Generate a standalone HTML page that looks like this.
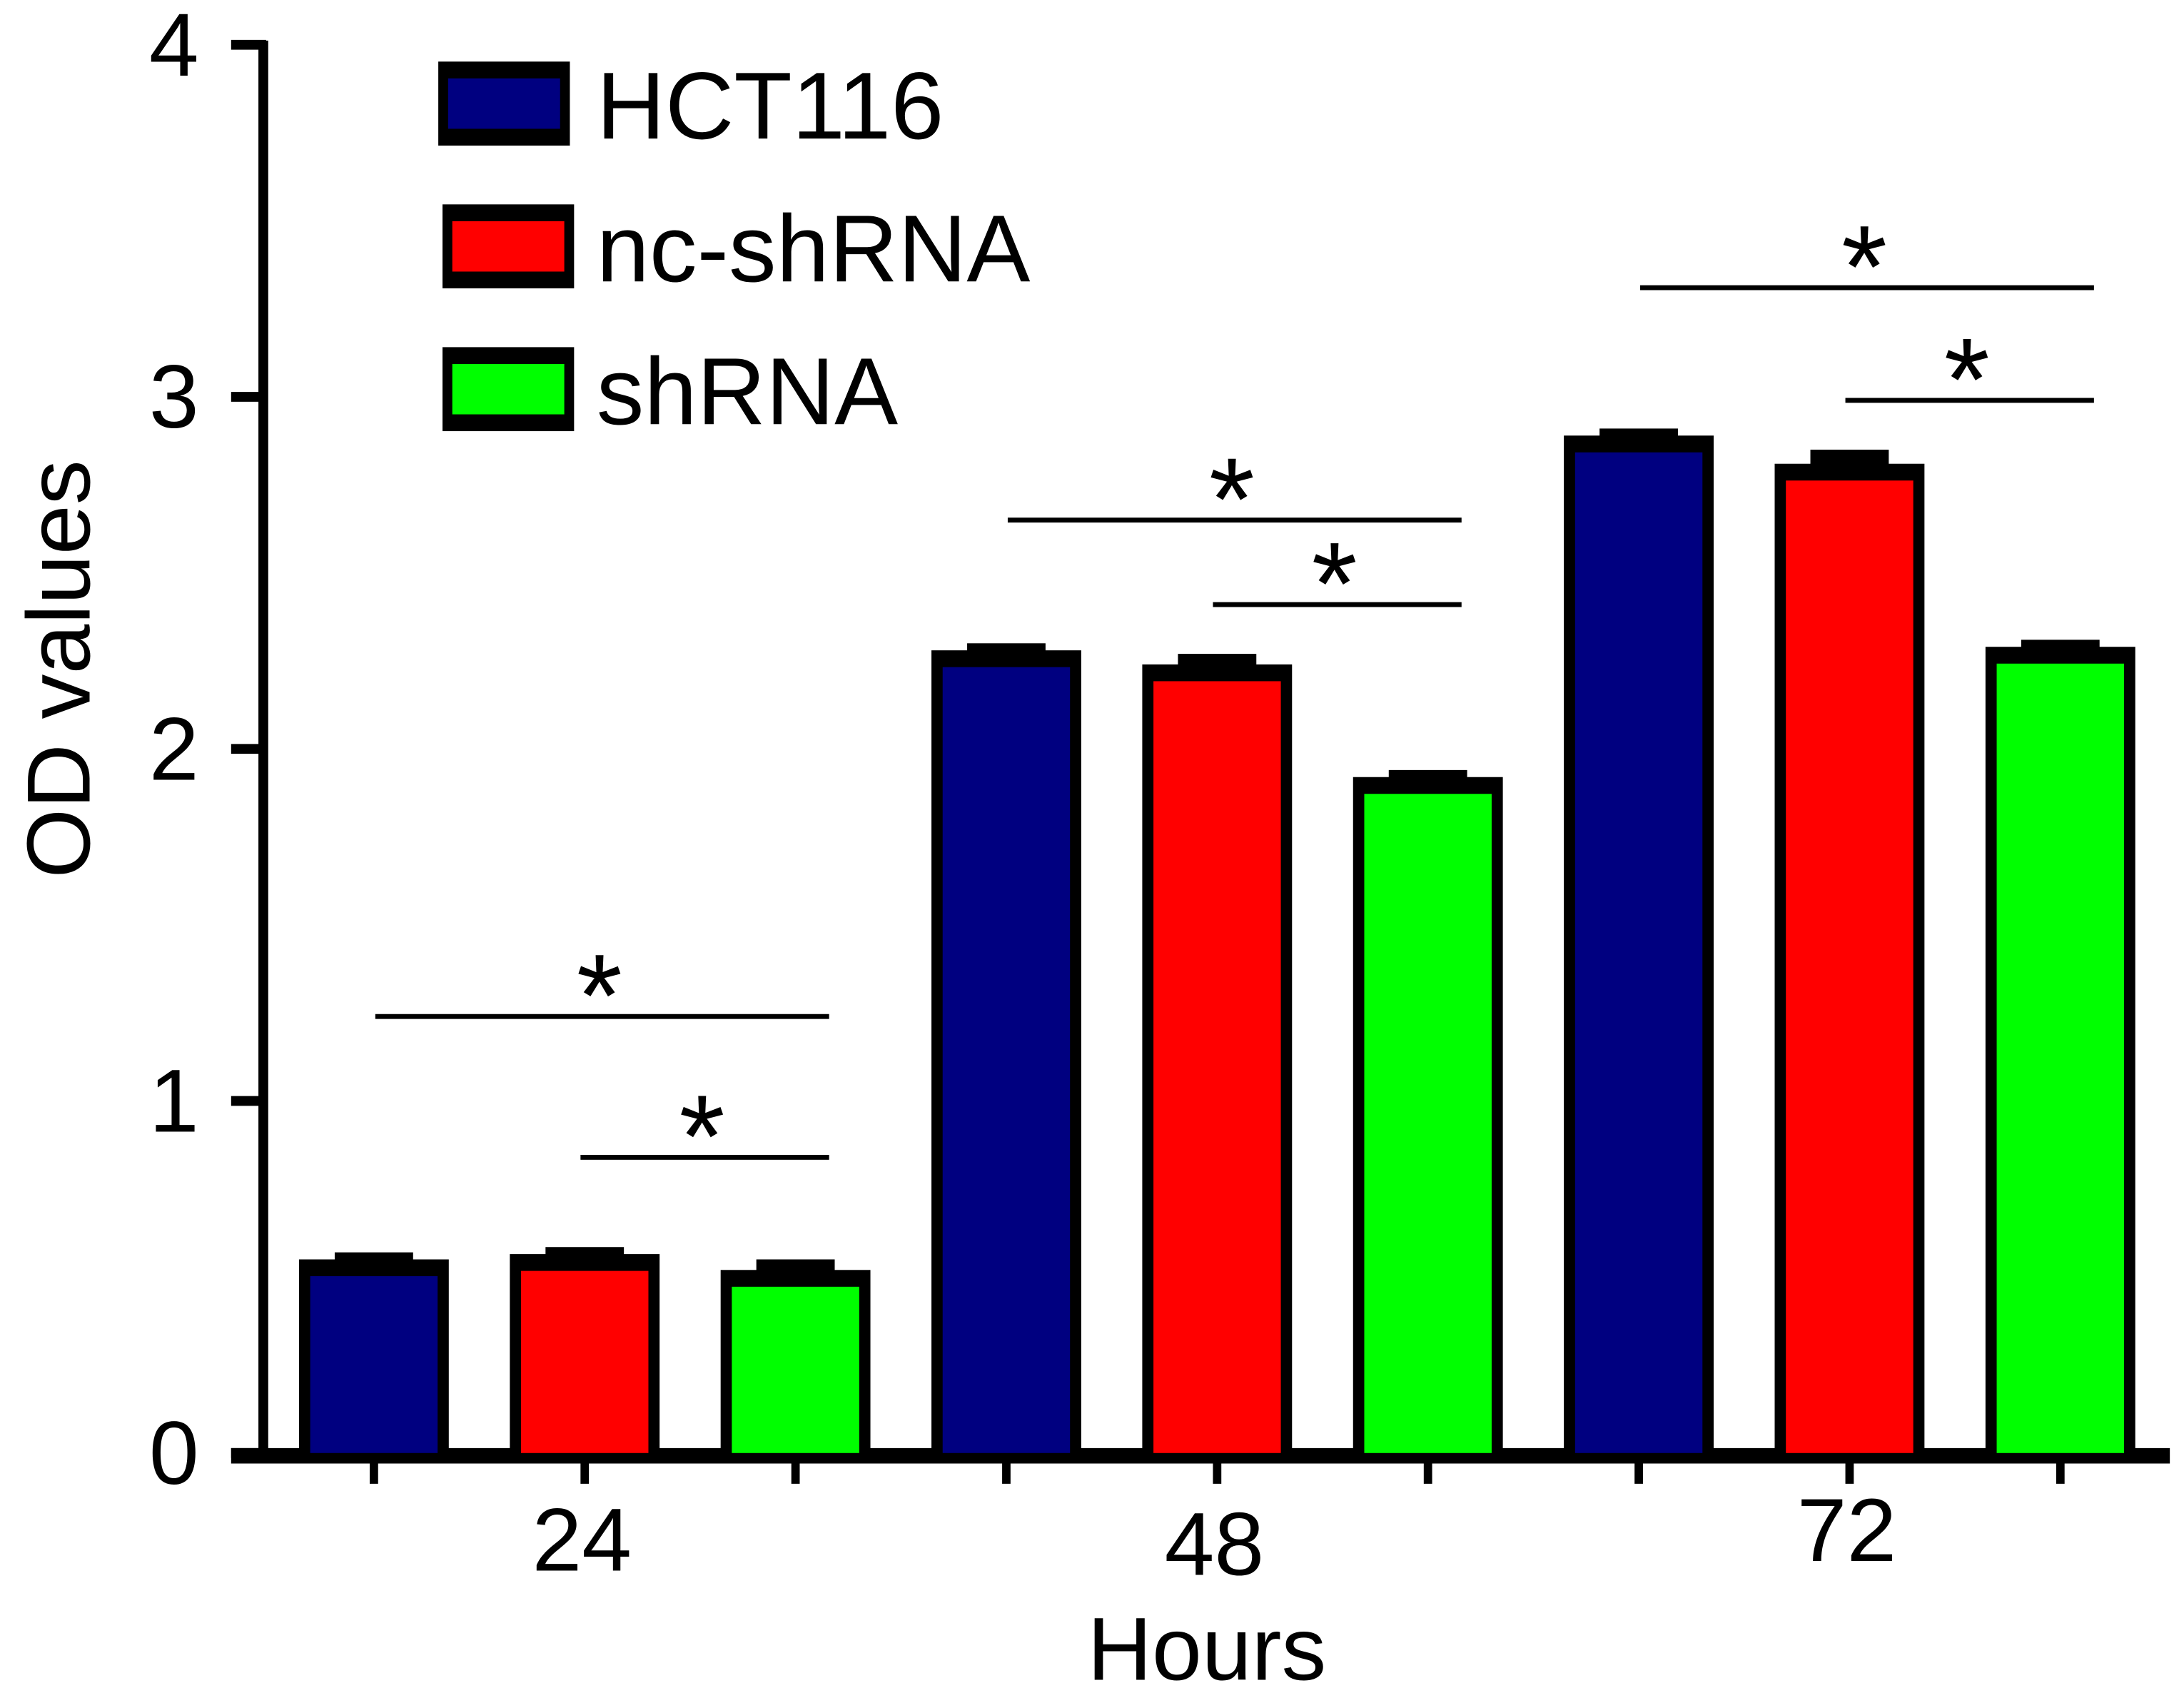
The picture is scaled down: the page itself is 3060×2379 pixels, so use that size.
<!DOCTYPE html>
<html><head><meta charset="utf-8"><style>
html,body{margin:0;padding:0;background:#fff;}
svg{display:block;}
text{font-family:"Liberation Sans",sans-serif;fill:#000;}
</style></head><body>
<svg id="chart" width="3060" height="2379" viewBox="0 0 1560 1213" xmlns="http://www.w3.org/2000/svg">
<g id="axes"></g>
<g id="bars"></g>
<g id="sig"></g>
<g id="legend"></g>
<text transform="translate(64,478) rotate(-90)" text-anchor="middle" font-size="64">OD values</text>
<text x="862" y="1200" text-anchor="middle" font-size="64">Hours</text>
</svg>
<script>
const categories = ["24", "48", "72"];
const seriesNames = ["HCT116", "nc-shRNA", "shRNA"];
const seriesColors = ["#000080", "#ff0000", "#00ff00"];
const hct116 = [0.55, 2.28, 2.89];
const ncShRNA = [0.565, 2.24, 2.81];
const shRNA = [0.52, 1.92, 2.29];
const errHct = [0.02, 0.02, 0.02];
const errNc = [0.02, 0.03, 0.04];
const errSh = [0.03, 0.02, 0.02];
const yTicks = [0, 1, 2, 3, 4];
const sigCats = [0, 0, 1, 1, 2, 2];
const sigFrom = [0, 1, 0, 1, 0, 1];
const sigTo = [2, 2, 2, 2, 2, 2];
const sigLevel = [1.24, 0.84, 2.65, 2.41, 3.31, 2.99];

const NS = "http://www.w3.org/2000/svg";
const y0 = 1038, yTop = 32, yMax = 4;
function yScale(v){ return y0 - (y0 - yTop) * v / yMax; }
const groupStart = 267, barStep = 150.6;
function xScale(ci, si){ return groupStart + (ci * 3 + si) * barStep; }
const barW = 107;
function mk(tag, attrs, parent){ const e = document.createElementNS(NS, tag); for (const k in attrs) e.setAttribute(k, attrs[k]); parent.appendChild(e); return e; }

const axes = document.getElementById('axes');
let yl = mk('line', {x1:188, y1:yTop-3, x2:188, y2:y0+4, stroke:'#000', 'stroke-width':7}, axes);


let xl = mk('line', {x1:165, y1:y0+2, x2:1550, y2:y0+2, stroke:'#000', 'stroke-width':11}, axes);


yTicks.forEach(t => {
  const y = yScale(t);
  let tk = mk('line', {x1:165, y1:y, x2:190, y2:y, stroke:'#000', 'stroke-width':7}, axes);
  
  
  let lb = mk('text', {x:142, y:y+22, 'text-anchor':'end', 'font-size':64}, axes);
  lb.textContent = t;
  
  
});
for (let ci = 0; ci < categories.length; ci++) {
  for (let si = 0; si < 3; si++) {
    const x = xScale(ci, si);
    let tk = mk('line', {x1:x, y1:y0, x2:x, y2:1060, stroke:'#000', 'stroke-width':6}, axes);
    
    
  }
  let lb = mk('text', {x:xScale(ci,1)-2, y:[1122,1125,1115][ci], 'text-anchor':'middle', 'font-size':64}, axes);
  lb.textContent = categories[ci];
  
  
}

const bars = document.getElementById('bars');
const allSeries = [hct116, ncShRNA, shRNA];
const allErr = [errHct, errNc, errSh];
for (let si = 0; si < 3; si++) {
  for (let ci = 0; ci < categories.length; ci++) {
    const v = allSeries[si][ci], cx = xScale(ci, si), top = yScale(v);
    const eTop = yScale(v + allErr[si][ci]);
    let cap = mk('rect', {x:cx-28, y:eTop, width:56, height:top-eTop+4, fill:'#000'}, bars);
    
    
    let outer = mk('rect', {x:cx-barW/2, y:top, width:barW, height:y0-top, fill:'#000'}, bars);
    
    
    let inner = mk('rect', {x:cx-barW/2+8, y:top+12, width:barW-16, height:Math.max(0,y0-top-12), fill:seriesColors[si]}, bars);
    
    
  }
}

const sig = document.getElementById('sig');
for (let i = 0; i < sigCats.length; i++) {
  const a = xScale(sigCats[i], sigFrom[i]), b = xScale(sigCats[i], sigTo[i]);
  const y = yScale(sigLevel[i]);
  const x1 = sigFrom[i] === 0 ? a + 1 : a - 3, x2 = b + 24;
  let ln = mk('line', {x1:x1, y1:y, x2:x2, y2:y, stroke:'#000', 'stroke-width':3.5}, sig);
  
  
  let st = mk('text', {x:(x1+x2)/2 - 2, y:y+14, 'text-anchor':'middle', 'font-size':84}, sig);
  st.textContent = '*';
  
  
}

const legend = document.getElementById('legend');
const legY = [44, 146, 248];
const legX = [313, 316, 316];
for (let si = 0; si < 3; si++) {
  let o = mk('rect', {x:legX[si], y:legY[si], width:94, height:60, fill:'#000'}, legend);
  
  
  let f = mk('rect', {x:legX[si]+7, y:legY[si]+12, width:80, height:36, fill:seriesColors[si]}, legend);
  
  
  let t = mk('text', {x:426, y:legY[si]+55, 'font-size':68}, legend);
  t.textContent = seriesNames[si];
  
  
}
</script>
</body></html>
